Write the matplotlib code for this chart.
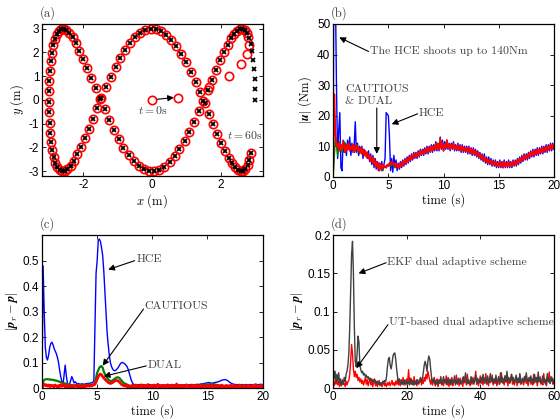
import numpy as np
import matplotlib
matplotlib.use("Agg")
import matplotlib.pyplot as plt
from matplotlib.ticker import FuncFormatter

plt.rcParams['font.family'] = ['Liberation Sans', 'DejaVu Sans']
plt.rcParams['mathtext.fontset'] = 'cm'
plt.rcParams['axes.unicode_minus'] = False

# ---------------- (a) trajectory ----------------
ref_x = [3.00, 3.00, 2.99, 2.97, 2.94, 2.91, 2.87, 2.82, 2.76, 2.70,
         2.63, 2.56, 2.48, 2.39, 2.29, 2.20, 2.09, 1.98, 1.86, 1.75,
         1.62, 1.49, 1.36, 1.23, 1.09, 0.95, 0.80, 0.66, 0.51, 0.36,
         0.21, 0.06, -0.09, -0.24, -0.39, -0.53, -0.68, -0.83, -0.97, -1.11,
         -1.25, -1.38, -1.51, -1.64, -1.77, -1.88, -2.00, -2.11, -2.21, -2.31,
         -2.40, -2.49, -2.57, -2.64, -2.71, -2.77, -2.83, -2.87, -2.91, -2.95,
         -2.97, -2.99, -3.00, -3.00, -2.99, -2.98, -2.96, -2.94, -2.90, -2.86,
         -2.81, -2.75, -2.69, -2.62, -2.54, -2.46, -2.37, -2.28, -2.18, -2.07,
         -1.96, -1.84, -1.72, -1.60, -1.47, -1.34, -1.20, -1.06, -0.92, -0.78,
         -0.63, -0.49, -0.34, -0.19, -0.04, 0.11, 0.26, 0.41, 0.56, 0.71,
         0.85, 0.99, 1.13, 1.27, 1.41, 1.54, 1.66, 1.79, 1.90, 2.02,
         2.13, 2.23, 2.33, 2.42, 2.50, 2.58, 2.66, 2.72, 2.78, 2.83,
         2.88]
ref_y = [0.00, 0.45, 0.89, 1.30, 1.69, 2.04, 2.35, 2.60, 2.80, 2.93,
         2.99, 2.99, 2.92, 2.79, 2.59, 2.33, 2.03, 1.67, 1.28, 0.86,
         0.42, -0.03, -0.47, -0.91, -1.33, -1.71, -2.06, -2.37, -2.61, -2.81,
         -2.93, -2.99, -2.99, -2.92, -2.78, -2.58, -2.32, -2.01, -1.65, -1.26,
         -0.84, -0.40, 0.05, 0.50, 0.93, 1.35, 1.74, 2.08, 2.38, 2.63,
         2.81, 2.94, 3.00, 2.99, 2.91, 2.77, 2.56, 2.30, 1.99, 1.63,
         1.24, 0.81, 0.37, -0.08, -0.52, -0.96, -1.37, -1.76, -2.10, -2.40,
         -2.64, -2.82, -2.94, -3.00, -2.98, -2.90, -2.76, -2.55, -2.28, -1.97,
         -1.61, -1.21, -0.79, -0.34, 0.10, 0.55, 0.98, 1.39, 1.78, 2.12,
         2.41, 2.65, 2.83, 2.95, 3.00, 2.98, 2.90, 2.74, 2.53, 2.26,
         1.95, 1.59, 1.19, 0.77, 0.32, -0.13, -0.58, -1.01, -1.42, -1.80,
         -2.14, -2.43, -2.66, -2.84, -2.95, -3.00, -2.98, -2.89, -2.73, -2.51,
         -2.25]
# robot start-up transient (before it locks onto the reference)
robot_x_start = [0.00, 0.76, 1.65, 2.24, 2.58, 2.77, 2.82, 2.78]
robot_y_start = [0.00, 0.08, 0.55, 1.02, 1.52, 1.95, 2.30, 2.64]
robot_x = robot_x_start + ref_x[8:]
robot_y = robot_y_start + ref_y[8:]

# ---------------- (b) control effort, dt = 0.1 s (green 0.2 s) ----------------
t_b = np.arange(0, 20.05, 0.1)
t_b2 = np.arange(0, 20.05, 0.2)
dual_u = [
    3, 27, 14, 11, 9.5, 11, 8.5, 10.5, 9, 11.5,
    9.5, 8, 10.5, 9, 11, 8.5, 10, 9, 10.5, 8,
    9.5, 10.5, 8.5, 9.5, 8, 9.5, 7.5, 9, 7, 8.5,
    6.5, 8, 6, 7, 5, 6.5, 4.5, 6, 3.5, 5,
    3, 4.5, 2, 4, 2.5, 4, 3, 3.5, 3, 4,
    3.5, 4.5, 4, 5, 4, 4.5, 3.5, 4.5, 3, 4,
    3, 4.5, 3.5, 5, 4, 5.5, 4.5, 6, 5, 6.5,
    5.5, 7, 6, 7.5, 6.5, 7.5, 6.5, 8, 7, 8.5,
    7.5, 8.5, 7.5, 9, 8, 9.5, 8, 9.5, 8.5, 10,
    8.5, 10, 9, 11, 9, 10.5, 9, 12.5, 9.5, 11,
    8.5, 10.5, 9.5, 12, 9.5, 10.5, 9, 10.5, 9.5, 11,
    9, 10, 9, 10.5, 9, 10, 8.5, 10, 8.5, 9.5,
    8.5, 9.5, 8, 9.5, 8, 9, 7.5, 9, 7.5, 8.5,
    7, 8, 6.5, 7.5, 6, 7, 5.5, 6.5, 5, 6,
    4.5, 5.5, 4.5, 5.5, 4, 5, 4, 5, 3.5, 4.5,
    3.5, 5, 3.5, 4.5, 3, 5, 3.5, 4.5, 3.5, 5,
    3.5, 4.5, 3.5, 5, 4, 5, 4, 5.5, 4.5, 6,
    5, 6.5, 5.5, 7, 6, 7, 6, 7.5, 6.5, 8,
    7, 8.5, 7, 8.5, 7.5, 9, 7.5, 9, 8, 9.5,
    8, 9.5, 8.5, 10, 8.5, 10, 9, 10.5, 9, 10.5,
    9.5]
hce_u = [
    0, 140, 60, 29, 6, 15, 21, 3, 2, 12,
    8, 11, 7, 12, 9, 13, 7, 11, 8, 10,
    18, 8, 11, 7, 10, 8, 10, 6, 9, 7,
    8, 6, 8.5, 5, 7.5, 4, 7, 3, 6, 2.5,
    5, 2, 4.5, 3, 5, 2, 4, 6, 21, 20.5,
    20, 13, 2, 6, 1.5, 7, 3, 5.5, 2, 4.5,
    2.5, 5, 3, 5.5, 3.5, 6, 4, 6.5, 4.5, 7,
    5, 7.5, 5.5, 8, 6, 8, 6, 8.5, 6.5, 9,
    7, 9, 7, 9.5, 7.5, 10, 7.5, 10, 8, 10.5,
    8, 10.5, 8.5, 11.5, 8.5, 11, 8.5, 13, 9, 12,
    8.5, 11.5, 9, 12, 9, 11, 8.5, 11, 9, 11.5,
    8.5, 10.5, 8.5, 11, 8.5, 10.5, 8, 10.5, 8, 10,
    8, 10, 7.5, 10, 7.5, 9.5, 7, 9.5, 7, 9,
    6.5, 8.5, 6, 8, 5.5, 7.5, 5, 7.5, 4.5, 6.5,
    4, 6.5, 4, 6, 3.5, 5.5, 3.5, 5.5, 3, 5,
    3, 5.5, 3, 5, 3, 5.5, 3, 5, 3, 5.5,
    3, 5, 3, 5.5, 3.5, 5.5, 3.5, 6, 4, 6.5,
    4.5, 7, 5, 7.5, 5.5, 7.5, 5.5, 8, 6, 8.5,
    6.5, 9, 6.5, 9, 7, 9.5, 7, 9.5, 7.5, 10,
    7.5, 10, 8, 10.5, 8, 10.5, 8.5, 11, 8.5, 11,
    9]
cautious_u = [
    0, 13, 7, 11.5, 8,
    11.5, 8.5, 11, 9, 10.5,
    8.5, 10, 7.5, 9.5, 7,
    8, 6, 6.5, 4.5, 5,
    3.5, 4, 2, 3.5, 3,
    4, 3.5, 4.5, 3, 4,
    3.5, 4.5, 4.5, 5.5, 5.5,
    6.5, 6.5, 7.5, 7, 8,
    7.5, 9, 8, 9.5, 8.5,
    10, 9, 11, 9.5, 11.5,
    9.5, 11, 9.5, 10.5, 9.5,
    10, 9, 10, 8.5, 9.5,
    8.5, 9, 8, 8.5, 7.5,
    7.5, 6.5, 6.5, 5.5, 5.5,
    4.5, 5, 4, 4.5, 3.5,
    4.5, 3.5, 4.5, 3.5, 4.5,
    3.5, 4.5, 4.5, 5, 5.5,
    6, 6, 6.5, 6.5, 7.5,
    7.5, 8, 8, 8.5, 8.5,
    9, 9, 9.5, 9.5, 10,
    10]

# ---------------- (c) tracking error, dt = 0.1 s ----------------
t_c = np.arange(0, 20.05, 0.1)
hce_err = [
    0.02, 0.48, 0.30, 0.16, 0.12, 0.11, 0.13, 0.16, 0.175, 0.18,
    0.17, 0.155, 0.145, 0.135, 0.12, 0.10, 0.07, 0.045, 0.025, 0.012,
    0.05, 0.09, 0.05, 0.02, 0.01, 0.015, 0.03, 0.045, 0.035, 0.02,
    0.025, 0.02, 0.015, 0.018, 0.016, 0.015, 0.017, 0.016, 0.015, 0.016,
    0.017, 0.018, 0.018, 0.019, 0.02, 0.021, 0.022, 0.03, 0.25, 0.45,
    0.50, 0.58, 0.585, 0.575, 0.55, 0.52, 0.46, 0.38, 0.30, 0.22,
    0.17, 0.13, 0.10, 0.085, 0.075, 0.07, 0.068, 0.07, 0.075, 0.08,
    0.088, 0.095, 0.10, 0.10, 0.098, 0.095, 0.09, 0.085, 0.075, 0.06,
    0.045, 0.03, 0.02, 0.015, 0.013, 0.012, 0.013, 0.012, 0.014, 0.013,
    0.012, 0.013, 0.014, 0.012, 0.011, 0.013, 0.012, 0.014, 0.013, 0.012,
    0.011, 0.012, 0.013, 0.012, 0.011, 0.012, 0.013, 0.012, 0.011, 0.012,
    0.012, 0.011, 0.012, 0.013, 0.012, 0.011, 0.012, 0.012, 0.011, 0.012,
    0.013, 0.012, 0.011, 0.012, 0.012, 0.013, 0.012, 0.011, 0.012, 0.013,
    0.012, 0.012, 0.011, 0.012, 0.013, 0.014, 0.013, 0.012, 0.013, 0.014,
    0.014, 0.015, 0.014, 0.015, 0.016, 0.017, 0.016, 0.018, 0.019, 0.02,
    0.021, 0.022, 0.021, 0.02, 0.019, 0.02, 0.021, 0.022, 0.023, 0.024,
    0.025, 0.027, 0.029, 0.031, 0.032, 0.033, 0.033, 0.032, 0.03, 0.027,
    0.023, 0.02, 0.018, 0.016, 0.015, 0.014, 0.014, 0.013, 0.014, 0.013,
    0.013, 0.014, 0.013, 0.012, 0.013, 0.014, 0.013, 0.012, 0.013, 0.014,
    0.013, 0.012, 0.013, 0.014, 0.015, 0.014, 0.013, 0.014, 0.015, 0.014,
    0.014]
cautious_err = [
    0.0, 0.025, 0.032, 0.034, 0.035, 0.035, 0.034, 0.034, 0.033, 0.033,
    0.032, 0.031, 0.03, 0.029, 0.028, 0.026, 0.025, 0.023, 0.022, 0.02,
    0.019, 0.018, 0.016, 0.015, 0.014, 0.013, 0.012, 0.012, 0.011, 0.011,
    0.011, 0.01, 0.01, 0.011, 0.01, 0.011, 0.012, 0.011, 0.012, 0.012,
    0.012, 0.013, 0.012, 0.013, 0.013, 0.014, 0.014, 0.015, 0.02, 0.04,
    0.06, 0.07, 0.08, 0.085, 0.086, 0.08, 0.065, 0.055, 0.048, 0.04,
    0.035, 0.03, 0.028, 0.028, 0.03, 0.033, 0.037, 0.04, 0.042, 0.042,
    0.04, 0.035, 0.03, 0.025, 0.02, 0.018, 0.016, 0.014, 0.012, 0.01,
    0.009, 0.008, 0.01, 0.007, 0.009, 0.006, 0.008, 0.01, 0.007, 0.009,
    0.006, 0.009, 0.007, 0.01, 0.006, 0.008, 0.011, 0.007, 0.009, 0.006,
    0.008, 0.01, 0.006, 0.009, 0.007, 0.011, 0.008, 0.006, 0.009, 0.007,
    0.01, 0.007, 0.009, 0.006, 0.008, 0.011, 0.007, 0.009, 0.006, 0.01,
    0.008, 0.006, 0.009, 0.007, 0.011, 0.008, 0.006, 0.01, 0.007, 0.009,
    0.006, 0.009, 0.007, 0.01, 0.008, 0.006, 0.009, 0.011, 0.007, 0.009,
    0.008, 0.01, 0.009, 0.011, 0.01, 0.012, 0.011, 0.013, 0.012, 0.014,
    0.013, 0.015, 0.014, 0.016, 0.015, 0.016, 0.015, 0.014, 0.013, 0.012,
    0.011, 0.01, 0.009, 0.01, 0.008, 0.009, 0.007, 0.01, 0.008, 0.009,
    0.007, 0.01, 0.008, 0.006, 0.009, 0.007, 0.01, 0.008, 0.006, 0.009,
    0.007, 0.01, 0.008, 0.011, 0.007, 0.009, 0.006, 0.01, 0.008, 0.009,
    0.007, 0.01, 0.008, 0.006, 0.009, 0.011, 0.007, 0.009, 0.008, 0.01,
    0.008]
dual_err = [
    0.0, 0.012, 0.015, 0.01, 0.013, 0.008, 0.012, 0.006, 0.011, 0.007,
    0.01, 0.005, 0.012, 0.008, 0.004, 0.01, 0.006, 0.013, 0.007, 0.016,
    0.009, 0.005, 0.011, 0.004, 0.008, 0.003, 0.009, 0.005, 0.01, 0.004,
    0.008, 0.011, 0.005, 0.009, 0.004, 0.01, 0.006, 0.008, 0.005, 0.011,
    0.006, 0.009, 0.012, 0.007, 0.01, 0.008, 0.011, 0.013, 0.015, 0.025,
    0.035, 0.045, 0.052, 0.055, 0.052, 0.045, 0.04, 0.035, 0.03, 0.027,
    0.022, 0.02, 0.018, 0.02, 0.022, 0.025, 0.028, 0.03, 0.03, 0.028,
    0.025, 0.02, 0.015, 0.012, 0.01, 0.008, 0.011, 0.006, 0.009, 0.004,
    0.008, 0.005, 0.011, 0.003, 0.007, 0.012, 0.004, 0.009, 0.002, 0.008,
    0.013, 0.005, 0.009, 0.003, 0.011, 0.006, 0.014, 0.004, 0.008, 0.002,
    0.01, 0.005, 0.012, 0.003, 0.008, 0.015, 0.004, 0.009, 0.003, 0.011,
    0.006, 0.01, 0.002, 0.008, 0.013, 0.004, 0.009, 0.003, 0.012, 0.005,
    0.009, 0.003, 0.016, 0.005, 0.008, 0.002, 0.011, 0.006, 0.01, 0.003,
    0.008, 0.013, 0.004, 0.009, 0.002, 0.007, 0.012, 0.004, 0.009, 0.003,
    0.011, 0.005, 0.008, 0.002, 0.01, 0.004, 0.012, 0.005, 0.008, 0.003,
    0.009, 0.004, 0.011, 0.003, 0.007, 0.012, 0.004, 0.008, 0.002, 0.01,
    0.005, 0.009, 0.003, 0.012, 0.004, 0.008, 0.002, 0.01, 0.006, 0.009,
    0.003, 0.011, 0.005, 0.008, 0.002, 0.01, 0.004, 0.009, 0.003, 0.012,
    0.005, 0.008, 0.003, 0.01, 0.004, 0.009, 0.002, 0.011, 0.005, 0.008,
    0.003, 0.01, 0.004, 0.013, 0.005, 0.008, 0.002, 0.009, 0.004, 0.011,
    0.006]

# ---------------- (d) EKF vs UT, dt = 0.25 s, values in 1e-3 ----------------
t_d = np.arange(0, 60.01, 0.25)
ekf_err_milli = [
    28, 12, 22, 8, 18, 10, 20, 6,
    12, 4, 9, 5, 14, 8, 18, 22,
    30, 45, 80, 130, 175, 192, 150, 80,
    35, 28, 45, 68, 60, 30, 24, 20,
    22, 17, 19, 15, 17, 13, 15, 11,
    13, 10, 12, 8, 11, 7, 10, 6,
    9, 5, 8, 4, 7, 5, 9, 6,
    10, 8, 15, 28, 38, 40, 30, 25,
    32, 42, 45, 46, 38, 25, 15, 8,
    12, 6, 10, 5, 9, 4, 11, 6,
    8, 5, 10, 4, 7, 12, 5, 8,
    4, 9, 5, 11, 6, 8, 10, 14,
    8, 12, 20, 30, 35, 30, 22, 35,
    42, 38, 25, 14, 8, 12, 6, 10,
    5, 9, 4, 11, 7, 13, 6, 9,
    15, 7, 11, 5, 8, 14, 6, 10,
    4, 12, 7, 9, 16, 6, 10, 5,
    13, 8, 11, 6, 9, 14, 7, 12,
    20, 10, 6, 11, 5, 9, 15, 7,
    12, 5, 10, 17, 8, 13, 6, 11,
    7, 14, 9, 18, 10, 6, 13, 8,
    16, 7, 11, 19, 9, 14, 6, 12,
    8, 17, 10, 5, 13, 9, 20, 8,
    14, 6, 11, 16, 8, 22, 10, 13,
    7, 12, 18, 9, 14, 6, 11, 17,
    8, 13, 7, 19, 10, 6, 12, 8,
    15, 9, 20, 11, 7, 14, 9, 16,
    8, 12, 6, 18, 10, 14, 7, 21,
    9, 13, 6, 11, 16, 8, 12, 5,
    10, 19, 8, 13, 6, 15, 9, 12,
    7]
ut_err_milli = [
    8, 3, 10, 5, 12, 4, 9, 2,
    7, 3, 11, 5, 6, 2, 9, 4,
    8, 10, 18, 35, 57, 45, 25, 15,
    22, 14, 18, 10, 14, 8, 12, 6,
    10, 4, 9, 14, 5, 11, 3, 8,
    13, 4, 9, 2, 7, 12, 3, 8,
    2, 6, 10, 3, 7, 2, 5, 9,
    3, 6, 2, 7, 4, 8, 3, 6,
    10, 4, 7, 3, 9, 5, 12, 4,
    8, 3, 11, 5, 14, 6, 9, 4,
    12, 7, 24, 8, 13, 5, 10, 4,
    15, 6, 9, 3, 11, 5, 8, 13,
    4, 10, 6, 14, 9, 18, 12, 22,
    16, 10, 5, 12, 4, 9, 14, 3,
    8, 12, 2, 10, 6, 15, 4, 9,
    3, 11, 7, 16, 4, 9, 2, 12,
    6, 14, 3, 8, 11, 4, 17, 6,
    10, 3, 13, 5, 9, 2, 15, 7,
    11, 4, 18, 6, 9, 3, 12, 5,
    14, 7, 10, 22, 5, 12, 3, 9,
    16, 6, 11, 4, 13, 8, 19, 5,
    10, 3, 14, 7, 9, 17, 4, 11,
    6, 13, 3, 10, 15, 5, 9, 20,
    7, 12, 4, 16, 8, 11, 3, 14,
    6, 10, 18, 5, 12, 4, 9, 15,
    3, 11, 7, 17, 5, 10, 13, 4,
    9, 16, 6, 12, 3, 10, 14, 5,
    11, 4, 18, 7, 9, 13, 3, 12,
    8, 15, 5, 10, 4, 19, 7, 11,
    3, 13, 9, 21, 6, 10, 14, 5,
    9]
ekf_err = np.array(ekf_err_milli) * 1e-3
ut_err = np.array(ut_err_milli) * 1e-3

# ---------------- figure ----------------
fig = plt.figure(figsize=(5.6, 4.2), dpi=100)
ax_a = fig.add_axes([0.075, 0.581, 0.394, 0.362])
ax_b = fig.add_axes([0.595, 0.579, 0.394, 0.364])
ax_c = fig.add_axes([0.075, 0.076, 0.394, 0.364])
ax_d = fig.add_axes([0.595, 0.076, 0.394, 0.364])

TXT = '#404040'
FS = 8.5
CM = 'cmr10'   # computer modern roman, shipped with matplotlib
fmt = FuncFormatter(lambda v, p: '%g' % v)


def style(ax, label):
    ax.tick_params(direction='in', top=True, right=True, length=3, width=0.6,
                   labelsize=FS, pad=2)
    for s in ax.spines.values():
        s.set_linewidth(0.9)
    ax.yaxis.set_major_formatter(fmt)
    ax.xaxis.set_major_formatter(fmt)
    ax.text(-0.01, 1.025, '(%s)' % label, transform=ax.transAxes,
            ha='left', va='bottom', fontsize=9, color=TXT, family=CM)


def arrow(ax, tail, head):
    ax.annotate('', xy=head, xytext=tail,
                arrowprops=dict(arrowstyle='-|>', color='k', lw=0.8,
                                mutation_scale=9, shrinkA=0, shrinkB=0))


def note(ax, x, y, s, ha='left', math=False):
    ax.text(x, y, s, ha=ha, va='center', fontsize=FS, color=TXT,
            family=None if math else CM)


# (a)
ax_a.plot(robot_x, robot_y, 'o', ls='none', mfc='none', mec='red', ms=6, mew=1.2)
ax_a.plot(ref_x, ref_y, 'x', ls='none', color='k', ms=3.5, mew=1.3)
ax_a.set_xlim(-3.2, 3.22)
ax_a.set_ylim(-3.2, 3.2)
ax_a.set_xticks([-2, 0, 2])
ax_a.set_yticks([-3, -2, -1, 0, 1, 2, 3])
ax_a.set_xlabel(r'$x\ \mathrm{(m)}$', fontsize=9, labelpad=1)
ax_a.set_ylabel(r'$y\ \mathrm{(m)}$', fontsize=9, labelpad=2)
arrow(ax_a, (0.16, 0.03), (0.64, 0.1))
note(ax_a, 0.02, -0.45, r'$t = 0\mathrm{s}$', ha='center', math=True)
note(ax_a, 3.21, -1.5, r'$t = 60\mathrm{s}$', ha='right', math=True)
style(ax_a, 'a')

# (b)
ax_b.plot(t_b, hce_u, color='blue', lw=1.0)
ax_b.plot(t_b2, cautious_u, color='green', lw=1.0)
ax_b.plot(t_b, dual_u, color='red', lw=1.3)
ax_b.set_xlim(0, 20)
ax_b.set_ylim(0, 50)
ax_b.set_xticks([0, 5, 10, 15, 20])
ax_b.set_yticks([0, 10, 20, 30, 40, 50])
ax_b.set_xlabel('time (s)', fontsize=9, labelpad=1, family=CM)
ax_b.set_ylabel(r'$|\boldsymbol{u}|\ \mathrm{(Nm)}$', fontsize=9, labelpad=2)
note(ax_b, 3.3, 41, 'The HCE shoots up to 140Nm')
arrow(ax_b, (3.2, 41), (0.55, 45.6))
note(ax_b, 1.1, 28.7, 'CAUTIOUS')
note(ax_b, 1.1, 24.6, '& DUAL')
arrow(ax_b, (3.95, 22.5), (3.95, 7.5))
note(ax_b, 7.75, 20.8, 'HCE')
arrow(ax_b, (7.65, 20.6), (5.3, 17.2))
style(ax_b, 'b')

# (c)
ax_c.plot(t_c, hce_err, color='blue', lw=1.0)
ax_c.plot(t_c, cautious_err, color='green', lw=1.6)
ax_c.plot(t_c, dual_err, color='red', lw=2.0)
ax_c.set_xlim(0, 20)
ax_c.set_ylim(0, 0.6)
ax_c.set_xticks([0, 5, 10, 15, 20])
ax_c.set_yticks([0, 0.1, 0.2, 0.3, 0.4, 0.5])
ax_c.set_xlabel('time (s)', fontsize=9, labelpad=1, family=CM)
ax_c.set_ylabel(r'$|\boldsymbol{p}_r - \boldsymbol{p}|$', fontsize=9, labelpad=2)
note(ax_c, 8.55, 0.506, 'HCE')
arrow(ax_c, (8.4, 0.5), (6.0, 0.465))
note(ax_c, 9.25, 0.32, 'CAUTIOUS')
arrow(ax_c, (9.2, 0.31), (5.5, 0.088))
note(ax_c, 9.55, 0.09, 'DUAL')
arrow(ax_c, (9.45, 0.087), (5.6, 0.046))
style(ax_c, 'c')

# (d)
ax_d.plot(t_d, ut_err, color='red', lw=1.0)
ax_d.plot(t_d, ekf_err, color='#404040', lw=1.0)
ax_d.set_xlim(0, 60)
ax_d.set_ylim(0, 0.2)
ax_d.set_xticks([0, 20, 40, 60])
ax_d.set_yticks([0, 0.05, 0.1, 0.15, 0.2])
ax_d.set_xlabel('time (s)', fontsize=9, labelpad=1, family=CM)
ax_d.set_ylabel(r'$|\boldsymbol{p}_r - \boldsymbol{p}|$', fontsize=9, labelpad=2)
note(ax_d, 14.5, 0.165, 'EKF dual adaptive scheme')
arrow(ax_d, (14.4, 0.164), (6.9, 0.15))
note(ax_d, 15.2, 0.087, 'UT-based dual adaptive scheme')
arrow(ax_d, (14.9, 0.083), (6.3, 0.026))
style(ax_d, 'd')

fig.savefig('out.png', dpi=100)
